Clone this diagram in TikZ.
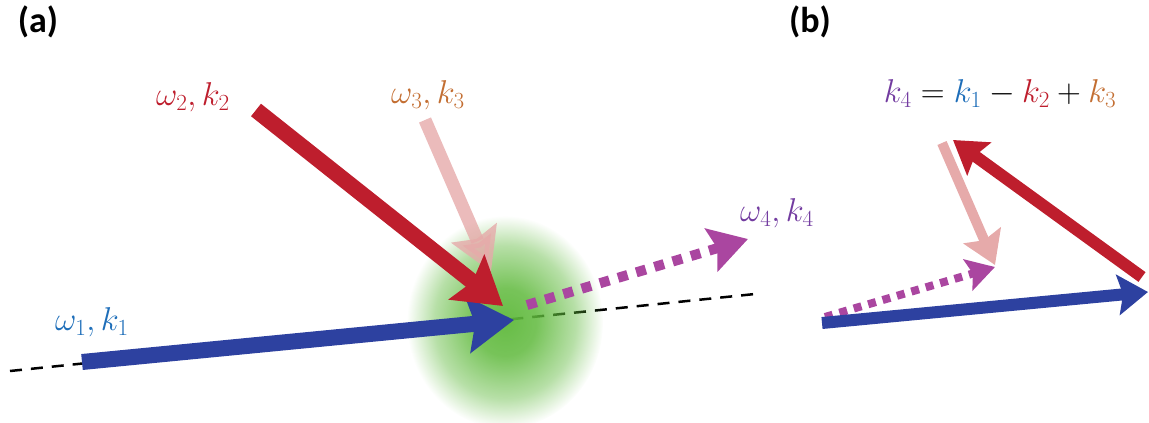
\RequirePackage{fix-cm}
\documentclass[tikz,border=0pt]{standalone}
\usepackage{amsmath}
\usepackage{fontspec}
\setsansfont{Carlito}
\usetikzlibrary{arrows.meta, fadings}

\definecolor{kone}{RGB}{45,65,160}
\definecolor{konelbl}{RGB}{30,110,185}
\definecolor{ktwo}{RGB}{190,30,45}
\definecolor{kthree}{RGB}{230,170,170}
\definecolor{kthreelbl}{RGB}{195,110,50}
\definecolor{kfour}{RGB}{170,70,160}
\definecolor{kfourlbl}{RGB}{115,60,160}
\definecolor{glow}{RGB}{95,185,60}

% soft glow: opaque core, fuzzy rim
\pgfdeclareradialshading{glowshade}{\pgfpoint{0bp}{0bp}}{rgb(0bp)=(0.95,0.95,0.95); rgb(8bp)=(0.85,0.85,0.85); rgb(18bp)=(0.45,0.45,0.45); rgb(25bp)=(0,0,0); rgb(50bp)=(0,0,0)}
\pgfdeclarefading{glowfade}{\pgfuseshading{glowshade}}

\begin{document}
\begin{tikzpicture}[x=1pt, y=-1pt,
    lbl/.style={font=\fontsize{33}{36}\selectfont},
    panel/.style={font=\fontsize{36}{40}\selectfont\sffamily\bfseries},
    bigtip/.style={-{Stealth[length=46pt, width=56pt, inset=7pt]}},
    smalltip/.style={-{Stealth[length=32pt, width=40pt, inset=5pt]}},
    dots/.style={dash pattern=on 10pt off 9pt}]
    \useasboundingbox (0,0) rectangle (1149,423);

    % Panel labels
    \node[panel] (pa) at (38,22) {(a)};
    \node[panel] (pb) at (810,22) {(b)};

    % Reference line
    \coordinate (dl) at (10,371);
    \coordinate (dr) at (755,294);
    \draw[line width=2.5pt, dash pattern=on 12pt off 9pt] (dl) -- (dr);

    % Interaction region
    \fill[glow, path fading=glowfade] (505,322) ellipse (98 and 106);

    % Panel (a): incoming and generated waves
    \coordinate (a4s) at (527,305);
    \coordinate (a4e) at (748,239);
    \draw[kfour, line width=10pt, dots, -{Stealth[length=38pt, width=44pt, inset=6pt]}] (a4s) -- (a4e);

    \coordinate (a1s) at (82,362);
    \coordinate (a1e) at (514,320);
    \draw[kone, line width=16pt, bigtip] (a1s) -- (a1e);

    \coordinate (a3s) at (425,120);
    \coordinate (a3e) at (491,272);
    \draw[kthree, opacity=0.8, line width=13pt, -{Stealth[length=42pt, width=48pt, inset=6pt]}] (a3s) -- (a3e);

    \coordinate (a2s) at (256,110);
    \coordinate (a2e) at (503,306);
    \draw[ktwo, line width=16pt, bigtip] (a2s) -- (a2e);

    \node[lbl, konelbl] (w1) at (92,322) {$\omega_1,k_1$};
    \node[lbl, ktwo] (w2) at (193,97) {$\omega_2,k_2$};
    \node[lbl, kthreelbl] (w3) at (428,95) {$\omega_3,k_3$};
    \node[lbl, kfourlbl] (w4) at (777,213) {$\omega_4,k_4$};

    % Panel (b): vector sum
    \node[lbl] (sum) at (1000,94) {$\textcolor{kfourlbl}{k_4}=\textcolor{konelbl}{k_1}-\textcolor{ktwo}{k_2}+\textcolor{kthreelbl}{k_3}$};

    \coordinate (b1s) at (822,323);
    \coordinate (b1e) at (1148,292);
    \coordinate (b2s) at (1142,277);
    \coordinate (b2e) at (953,140);
    \coordinate (b3s) at (942,143);
    \coordinate (b3e) at (995,265);
    \coordinate (b4s) at (825,317);
    \coordinate (b4e) at (995,267);
    \draw[kfour, line width=8pt, dash pattern=on 8pt off 7pt, -{Stealth[length=28pt, width=32pt, inset=5pt]}] (b4s) -- (b4e);
    \draw[kthree, line width=10pt, smalltip] (b3s) -- (b3e);
    \draw[kone, line width=12pt, -{Stealth[length=30pt, width=40pt, inset=5pt]}] (b1s) -- (b1e);
    \draw[ktwo, line width=12pt, smalltip] (b2s) -- (b2e);
\end{tikzpicture}
\end{document}
